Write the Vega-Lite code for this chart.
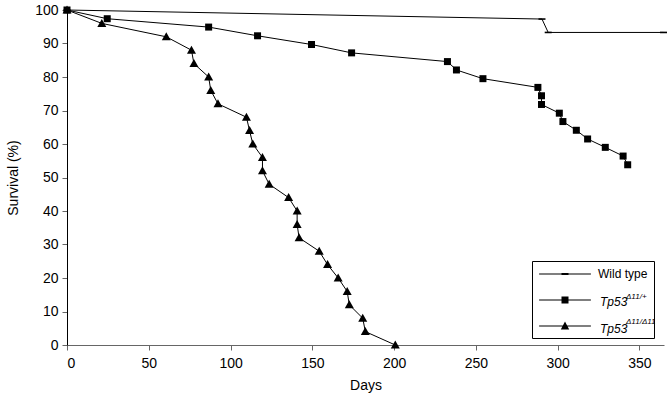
{
  "$schema": "https://vega.github.io/schema/vega-lite/v6.json",
  "autosize": {"type": "none"},
  "width": 597,
  "height": 335,
  "padding": {"left": 67, "top": 10, "right": 6, "bottom": 55},
  "background": "white",
  "config": {
    "font": "Liberation Sans",
    "view": {"stroke": null},
    "axis": {"grid": false, "labelFont": "Liberation Sans", "titleFont": "Liberation Sans", "labelFontSize": 14, "titleFontSize": 14, "titleFontWeight": "normal", "labelColor": "#000", "titleColor": "#000", "tickSize": 5, "tickColor": "#555", "domainColor": "#444"}
  },
  "data": {
    "values": [
      {"series": "Wild type", "i": 0, "day": 0, "surv": 100},
      {"series": "Wild type", "i": 1, "day": 290.4, "surv": 97.3},
      {"series": "Wild type", "i": 2, "day": 294.2, "surv": 93.3},
      {"series": "Wild type", "i": 3, "day": 364.7, "surv": 93.3},
      {"series": "Tp53Δ11/+", "i": 0, "day": 0, "surv": 100},
      {"series": "Tp53Δ11/+", "i": 1, "day": 24.6, "surv": 97.4},
      {"series": "Tp53Δ11/+", "i": 2, "day": 86.6, "surv": 94.9},
      {"series": "Tp53Δ11/+", "i": 3, "day": 116.5, "surv": 92.3},
      {"series": "Tp53Δ11/+", "i": 4, "day": 149.5, "surv": 89.7},
      {"series": "Tp53Δ11/+", "i": 5, "day": 174.0, "surv": 87.2},
      {"series": "Tp53Δ11/+", "i": 6, "day": 232.6, "surv": 84.6},
      {"series": "Tp53Δ11/+", "i": 7, "day": 238.1, "surv": 82.1},
      {"series": "Tp53Δ11/+", "i": 8, "day": 254.3, "surv": 79.5},
      {"series": "Tp53Δ11/+", "i": 9, "day": 287.9, "surv": 76.9},
      {"series": "Tp53Δ11/+", "i": 10, "day": 290.1, "surv": 74.4},
      {"series": "Tp53Δ11/+", "i": 11, "day": 290.1, "surv": 71.8},
      {"series": "Tp53Δ11/+", "i": 12, "day": 301.0, "surv": 69.2},
      {"series": "Tp53Δ11/+", "i": 13, "day": 303.2, "surv": 66.7},
      {"series": "Tp53Δ11/+", "i": 14, "day": 311.4, "surv": 64.1},
      {"series": "Tp53Δ11/+", "i": 15, "day": 318.3, "surv": 61.5},
      {"series": "Tp53Δ11/+", "i": 16, "day": 329.1, "surv": 59.0},
      {"series": "Tp53Δ11/+", "i": 17, "day": 340.0, "surv": 56.4},
      {"series": "Tp53Δ11/+", "i": 18, "day": 342.8, "surv": 53.8},
      {"series": "Tp53Δ11/Δ11", "i": 0, "day": 0, "surv": 100},
      {"series": "Tp53Δ11/Δ11", "i": 1, "day": 21.3, "surv": 96},
      {"series": "Tp53Δ11/Δ11", "i": 2, "day": 60.7, "surv": 92},
      {"series": "Tp53Δ11/Δ11", "i": 3, "day": 76.1, "surv": 88},
      {"series": "Tp53Δ11/Δ11", "i": 4, "day": 77.6, "surv": 84},
      {"series": "Tp53Δ11/Δ11", "i": 5, "day": 86.6, "surv": 80},
      {"series": "Tp53Δ11/Δ11", "i": 6, "day": 87.9, "surv": 76},
      {"series": "Tp53Δ11/Δ11", "i": 7, "day": 92.3, "surv": 72},
      {"series": "Tp53Δ11/Δ11", "i": 8, "day": 109.7, "surv": 68},
      {"series": "Tp53Δ11/Δ11", "i": 9, "day": 111.6, "surv": 64},
      {"series": "Tp53Δ11/Δ11", "i": 10, "day": 113.6, "surv": 60},
      {"series": "Tp53Δ11/Δ11", "i": 11, "day": 119.5, "surv": 56},
      {"series": "Tp53Δ11/Δ11", "i": 12, "day": 119.5, "surv": 52},
      {"series": "Tp53Δ11/Δ11", "i": 13, "day": 123.6, "surv": 48},
      {"series": "Tp53Δ11/Δ11", "i": 14, "day": 135.5, "surv": 44},
      {"series": "Tp53Δ11/Δ11", "i": 15, "day": 140.7, "surv": 40},
      {"series": "Tp53Δ11/Δ11", "i": 16, "day": 140.7, "surv": 36},
      {"series": "Tp53Δ11/Δ11", "i": 17, "day": 141.9, "surv": 32},
      {"series": "Tp53Δ11/Δ11", "i": 18, "day": 154.2, "surv": 28},
      {"series": "Tp53Δ11/Δ11", "i": 19, "day": 159.3, "surv": 24},
      {"series": "Tp53Δ11/Δ11", "i": 20, "day": 165.8, "surv": 20},
      {"series": "Tp53Δ11/Δ11", "i": 21, "day": 171.3, "surv": 16},
      {"series": "Tp53Δ11/Δ11", "i": 22, "day": 172.6, "surv": 12},
      {"series": "Tp53Δ11/Δ11", "i": 23, "day": 180.8, "surv": 8},
      {"series": "Tp53Δ11/Δ11", "i": 24, "day": 182.4, "surv": 4},
      {"series": "Tp53Δ11/Δ11", "i": 25, "day": 200.7, "surv": 0}
    ]
  },
  "encoding": {
    "x": {"field": "day", "type": "quantitative", "title": "Days",
      "scale": {"domain": [0, 365], "nice": false, "zero": true},
      "axis": {"values": [0, 50, 100, 150, 200, 250, 300, 350], "labelPadding": 6, "titlePadding": 8, "domainColor": "#666", "tickColor": "#666"}},
    "y": {"field": "surv", "type": "quantitative", "title": "Survival (%)",
      "scale": {"domain": [0, 100], "nice": false},
      "axis": {"values": [0, 10, 20, 30, 40, 50, 60, 70, 80, 90, 100], "labelPadding": 4, "titlePadding": 14, "domainColor": "#000", "tickColor": "#666"}}
  },
  "resolve": {"scale": {"shape": "independent"}},
  "layer": [
    {
      "mark": {"type": "line", "color": "#000", "strokeWidth": 1},
      "encoding": {
        "detail": {"field": "series"},
        "order": {"field": "i", "type": "quantitative"}
      }
    },
    {
      "mark": {"type": "point", "filled": true, "opacity": 1, "size": 100, "color": "#000"},
      "encoding": {
        "shape": {"field": "series", "type": "nominal",
          "scale": {"domain": ["Wild type", "Tp53Δ11/+", "Tp53Δ11/Δ11"],
            "range": ["M-0.7,-0.16H0.7V0.16H-0.7Z", "M-0.7,-0.7H0.7V0.7H-0.7Z", "M0,-0.9L0.9,0.7H-0.9Z"]},
          "legend": null
        }
      }
    },
    {
      "transform": [{"filter": "datum.i < 0"}],
      "mark": {"type": "point", "filled": true, "opacity": 1, "size": 196, "color": "#000"},
      "encoding": {
        "shape": {"field": "series", "type": "nominal",
          "scale": {"domain": ["Wild type", "Tp53Δ11/+", "Tp53Δ11/Δ11"],
            "range": ["M-3.7,-0.07H3.7V0.07H-3.7ZM-0.5,-0.15H0.5V0.15H-0.5Z", "M-3.7,-0.07H3.7V0.07H-3.7ZM-0.5,-0.5H0.5V0.5H-0.5Z", "M-3.7,-0.07H3.7V0.07H-3.7ZM0,-0.64L0.6,0.5H-0.6Z"]},
          "legend": {
            "title": null,
            "orient": "none",
            "legendX": 465,
            "legendY": 251,
            "strokeColor": "#000",
            "padding": 6,
            "symbolSize": 196,
            "symbolOffset": 20,
            "symbolFillColor": "#000",
            "symbolStrokeColor": "#000",
            "symbolStrokeWidth": 0,
            "symbolOpacity": 1,
            "labelFont": "Liberation Sans",
            "labelFontSize": 12,
            "labelColor": "#000",
            "labelOffset": 26,
            "rowPadding": 13,
            "labelExpr": "datum.value === 'Wild type' ? 'Wild type\u00a0\u00a0\u00a0' : ''"
          }
        }
      }
    },
    {
      "transform": [{"filter": "datum.i < 0"}],
      "mark": {"type": "point", "filled": true, "opacity": 0, "size": 196, "color": "#000"},
      "encoding": {
        "shape": {"field": "series", "type": "nominal",
          "scale": {"domain": ["Wild type", "Tp53Δ11/+", "Tp53Δ11/Δ11"],
            "range": ["M0,0", "M0,0", "M0,0"]},
          "legend": {
            "title": null,
            "orient": "none",
            "legendX": 511,
            "legendY": 251,
            "padding": 6,
            "symbolSize": 196,
            "symbolOpacity": 0,
            "labelFont": "Liberation Sans",
            "labelFontSize": 12,
            "labelFontStyle": "italic",
            "labelColor": "#000",
            "labelOffset": 0,
            "rowPadding": 13,
            "labelExpr": "datum.value === 'Wild type' ? '' : 'Tp53'"
          }
        }
      }
    },
    {
      "transform": [{"filter": "datum.i < 0"}],
      "mark": {"type": "point", "filled": true, "opacity": 0, "size": 196, "color": "#000"},
      "encoding": {
        "shape": {"field": "series", "type": "nominal",
          "scale": {"domain": ["Wild type", "Tp53Δ11/+", "Tp53Δ11/Δ11"],
            "range": ["M0,0", "M0,0", "M0,0"]},
          "legend": {
            "title": null,
            "orient": "none",
            "legendX": 537,
            "legendY": 248,
            "padding": 6,
            "symbolSize": 196,
            "symbolOpacity": 0,
            "labelFont": "Liberation Sans",
            "labelFontSize": 8,
            "labelFontStyle": "italic",
            "labelColor": "#000",
            "labelOffset": 0,
            "rowPadding": 13,
            "labelExpr": "datum.value === 'Wild type' ? '' : datum.value === 'Tp53Δ11/+' ? 'Δ11/+' : 'Δ11/Δ11'"
          }
        }
      }
    }
  ]
}
